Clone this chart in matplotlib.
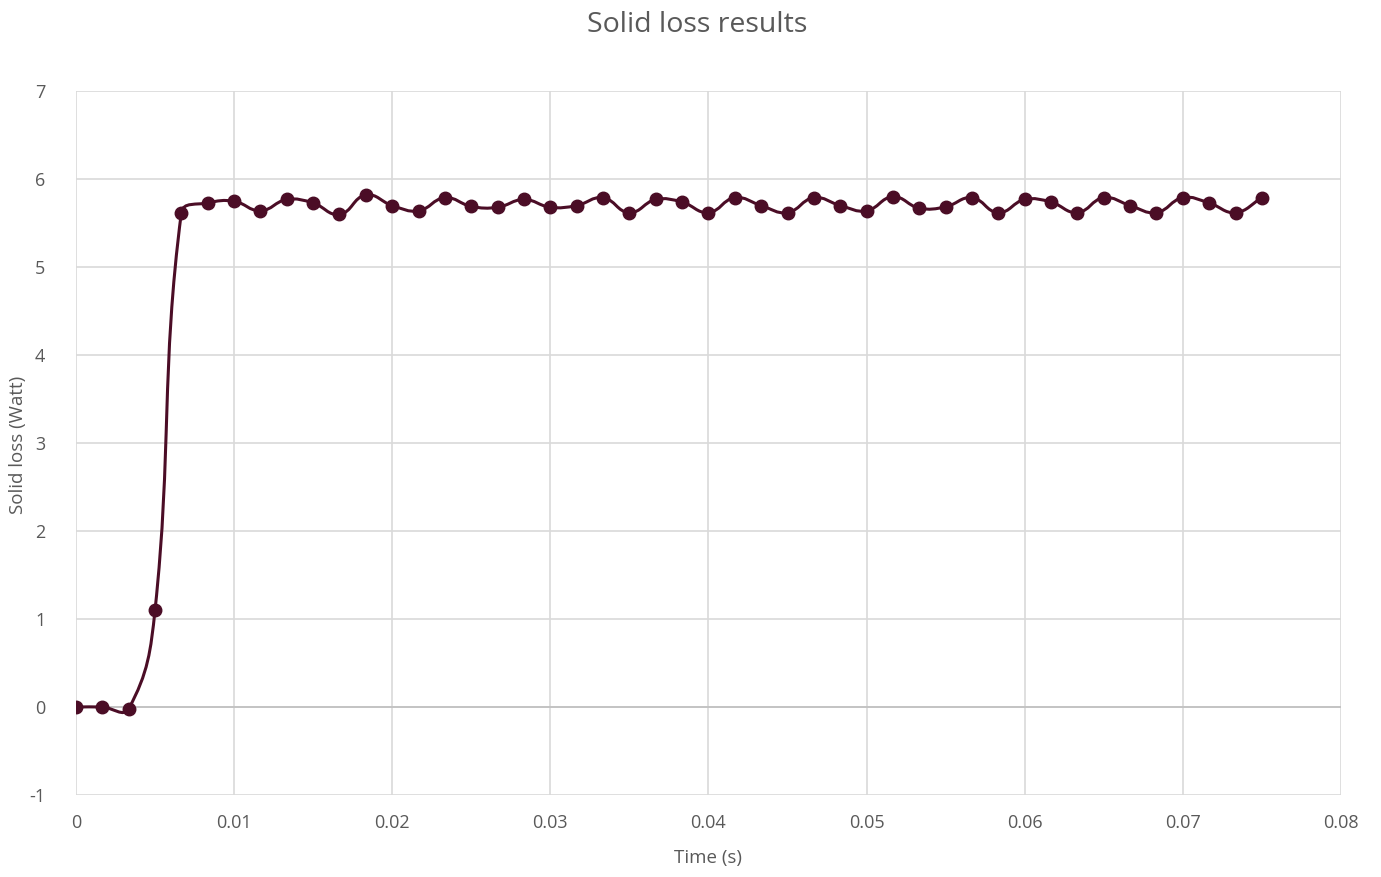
import numpy as np
import matplotlib.pyplot as plt
from matplotlib.path import Path
from matplotlib.patches import PathPatch

# Sampled solid loss (one sample every 1/600 s)
time_s = np.arange(46) / 600.0
loss_w = [0.0, 0.0, -0.02, 1.10,
          5.62, 5.73, 5.75, 5.64, 5.77, 5.73, 5.60, 5.82, 5.70, 5.64, 5.79, 5.69, 5.68,
          5.77, 5.68, 5.70, 5.79, 5.62, 5.77, 5.74, 5.62, 5.79, 5.70, 5.62, 5.79, 5.70,
          5.64, 5.80, 5.67,
          5.685, 5.79, 5.62, 5.77, 5.74, 5.62, 5.79, 5.70, 5.62, 5.79, 5.73, 5.62, 5.79]

x_ticks = [0, 0.01, 0.02, 0.03, 0.04, 0.05, 0.06, 0.07, 0.08]
x_labels = ['0', '0.01', '0.02', '0.03', '0.04', '0.05', '0.06', '0.07', '0.08']
y_ticks = list(range(-1, 8))

line_color = '#4b0d26'
text_color = '#595959'
grid_color = '#d9d9d9'

plt.rcParams['font.family'] = ['Open Sans', 'DejaVu Sans']
plt.rcParams['axes.unicode_minus'] = False


def smooth_path(x, y, sx, sy, k=0.5):
    """Smoothed line like a spreadsheet chart: Bezier segments whose handles
    follow the neighbour direction and scale with the segment length on screen."""
    pts = np.column_stack([np.asarray(x) * sx, np.asarray(y) * sy])
    n = len(pts)
    tang = []
    for i in range(n):
        a = pts[max(i - 1, 0)]
        b = pts[min(i + 1, n - 1)]
        d = b - a
        tang.append(d / np.hypot(*d))
    verts = [pts[0]]
    codes = [Path.MOVETO]
    for i in range(n - 1):
        seg = np.hypot(*(pts[i + 1] - pts[i]))
        c1 = pts[i] + tang[i] * seg * k
        c2 = pts[i + 1] - tang[i + 1] * seg * k
        verts += [c1, c2, pts[i + 1]]
        codes += [Path.CURVE4] * 3
    verts = np.array(verts) / [sx, sy]
    return Path(verts, codes)


fig = plt.figure(figsize=(13.81, 8.77), dpi=100)
ax = fig.add_axes([0.055, 0.0935, 0.916, 0.8025])

# approximate screen scale (pixels per data unit) so the smoothing looks right
sx = 1265 / 0.08
sy = 704 / 8.0
ax.add_patch(PathPatch(smooth_path(time_s, loss_w, sx, sy, k=0.4), facecolor='none',
                       edgecolor=line_color, linewidth=2.2, zorder=3))
ax.plot(time_s, loss_w, linestyle='none', marker='o', markersize=9,
        color=line_color, zorder=4)

ax.set_xlim(0, 0.08)
ax.set_ylim(-1, 7)
ax.set_xticks(x_ticks)
ax.set_xticklabels(x_labels)
ax.set_yticks(y_ticks)
ax.grid(True, color=grid_color, linewidth=1.2)
ax.axhline(0, color='#bfbfbf', linewidth=1.2, zorder=2)
ax.set_axisbelow(True)
for s in ax.spines.values():
    s.set_visible(False)
ax.tick_params(length=0, colors=text_color, labelsize=13)
ax.tick_params(axis='x', pad=14)
ax.tick_params(axis='y', pad=22)

fig.text(0.505, 0.971, 'Solid loss results', color=text_color, fontsize=20.5,
         ha='center', va='center')
ax.set_xlabel('Time (s)', color=text_color, fontsize=13.5, labelpad=12)
fig.text(0.013, 0.493, 'Solid loss (Watt)', color=text_color, fontsize=13.5,
         rotation=90, ha='center', va='center')

fig.savefig('out.png', dpi=100)
